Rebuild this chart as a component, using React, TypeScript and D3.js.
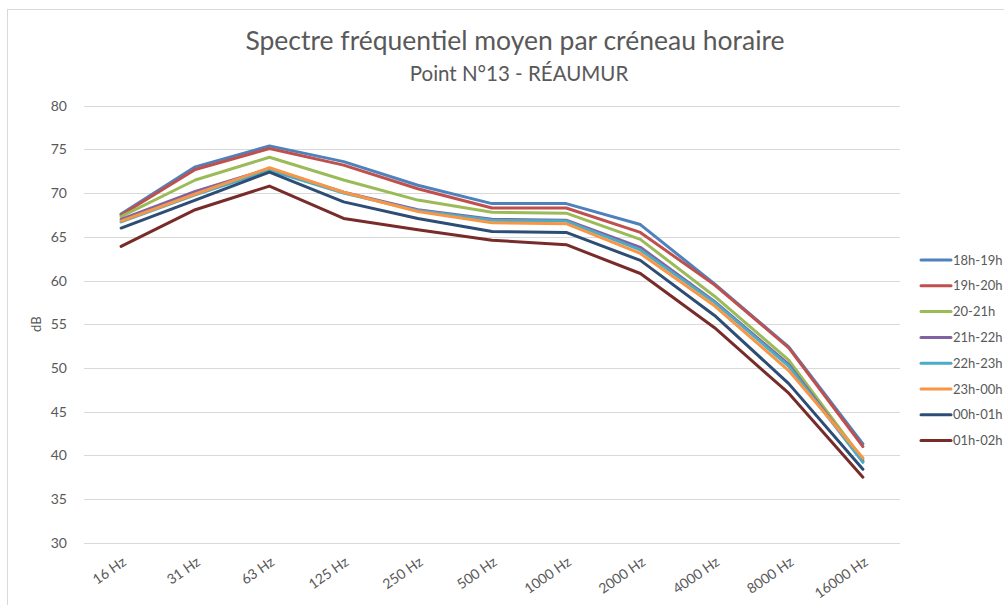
import React, { useEffect, useRef } from 'react';
import * as d3 from 'd3';

// categories (x axis)
const frequencies = ['16 Hz', '31 Hz', '63 Hz', '125 Hz', '250 Hz', '500 Hz', '1000 Hz', '2000 Hz', '4000 Hz', '8000 Hz', '16000 Hz'];

// series values (dB)
const s18h19h = [67.6, 73.0, 75.4, 73.6, 70.9, 68.8, 68.8, 66.4, 59.6, 52.4, 41.3];
const s19h20h = [67.5, 72.7, 75.1, 73.2, 70.5, 68.3, 68.3, 65.5, 59.5, 52.3, 41.0];
const s20h21h = [67.3, 71.5, 74.1, 71.5, 69.2, 67.8, 67.7, 64.7, 58.2, 50.9, 39.5];
const s21h22h = [67.0, 70.2, 72.8, 70.1, 68.1, 67.0, 66.9, 63.8, 57.6, 50.4, 39.3];
const s22h23h = [66.7, 69.8, 72.6, 70.0, 68.0, 66.9, 66.8, 63.5, 57.5, 50.2, 39.2];
const s23h00h = [66.8, 69.9, 72.9, 70.1, 67.9, 66.6, 66.5, 63.1, 57.1, 49.7, 39.7];
const s00h01h = [66.0, 69.2, 72.4, 69.0, 67.1, 65.6, 65.5, 62.3, 56.0, 48.2, 38.4];
const s01h02h = [63.9, 68.1, 70.8, 67.1, 65.8, 64.6, 64.1, 60.8, 54.6, 47.1, 37.5];

const seriesNames = ['18h-19h', '19h-20h', '20-21h', '21h-22h', '22h-23h', '23h-00h', '00h-01h', '01h-02h'];
const seriesValues = [s18h19h, s19h20h, s20h21h, s21h22h, s22h23h, s23h00h, s00h01h, s01h02h];
const seriesColors = ['#4F81BD', '#C0504D', '#9BBB59', '#8064A2', '#4BACC6', '#F79646', '#2C4D75', '#772C2A'];

const yTicks = [30, 35, 40, 45, 50, 55, 60, 65, 70, 75, 80];

const App = () => {
  const chartRef = useRef<SVGSVGElement | null>(null);

  useEffect(() => {
    const svg = d3.select(chartRef.current);
    svg.selectAll('*').remove();

    const font = 'Lato, "Open Sans", sans-serif';
    const textColor = '#595959';

    // chart area border (runs off the right and bottom of the picture)
    svg
      .append('rect')
      .attr('x', 7.5)
      .attr('y', 9.5)
      .attr('width', 1100)
      .attr('height', 800)
      .attr('fill', '#fff')
      .attr('stroke', '#d9d9d9')
      .attr('stroke-width', 1);

    // plot area
    const left = 84;
    const right = 900;
    const top = 105.7;
    const bottom = 542.7;

    const x = d3.scaleBand().domain(frequencies).range([left, right]);
    const y = d3.scaleLinear().domain([30, 80]).range([bottom, top]);

    // gridlines
    svg
      .append('g')
      .selectAll('line')
      .data(yTicks)
      .enter()
      .append('line')
      .attr('x1', left)
      .attr('x2', right)
      .attr('y1', (d) => Math.round(y(d)) + 0.5)
      .attr('y2', (d) => Math.round(y(d)) + 0.5)
      .attr('stroke', '#d9d9d9')
      .attr('stroke-width', 1);

    // y tick labels
    svg
      .append('g')
      .selectAll('text')
      .data(yTicks)
      .enter()
      .append('text')
      .attr('x', 67)
      .attr('y', (d) => y(d) + 5)
      .attr('text-anchor', 'end')
      .style('font-family', font)
      .style('font-size', '14px')
      .style('fill', textColor)
      .text((d) => d);

    // y axis title
    svg
      .append('text')
      .attr('transform', `translate(41,${(top + bottom) / 2}) rotate(-90)`)
      .attr('text-anchor', 'middle')
      .style('font-family', font)
      .style('font-size', '13px')
      .style('fill', textColor)
      .text('dB');

    // x tick labels, rotated
    svg
      .append('g')
      .selectAll('text')
      .data(frequencies)
      .enter()
      .append('text')
      .attr('transform', (d) => {
        const cx = (x(d) as number) + x.bandwidth() / 2 + 6;
        return `translate(${cx},564) rotate(-35)`;
      })
      .attr('text-anchor', 'end')
      .style('font-family', font)
      .style('font-size', '14px')
      .style('fill', textColor)
      .text((d) => d);

    // lines
    const line = d3
      .line<number>()
      .x((d, i) => (x(frequencies[i]) as number) + x.bandwidth() / 2)
      .y((d) => y(d));

    svg
      .append('g')
      .selectAll('path')
      .data(seriesValues)
      .enter()
      .append('path')
      .attr('d', (d) => line(d))
      .attr('fill', 'none')
      .attr('stroke', (d, i) => seriesColors[i])
      .attr('stroke-width', 3)
      .attr('stroke-linejoin', 'round')
      .attr('stroke-linecap', 'round');

    // legend
    const legend = svg
      .append('g')
      .selectAll('g')
      .data(seriesNames)
      .enter()
      .append('g')
      .attr('transform', (d, i) => `translate(0,${260 + i * 25.8})`);

    legend
      .append('line')
      .attr('x1', 921)
      .attr('x2', 951)
      .attr('y1', 0)
      .attr('y2', 0)
      .attr('stroke', (d, i) => seriesColors[i])
      .attr('stroke-width', 3)
      .attr('stroke-linecap', 'round');

    legend
      .append('text')
      .attr('x', 953)
      .attr('y', 4.5)
      .style('font-family', font)
      .style('font-size', '13px')
      .style('fill', textColor)
      .text((d) => d);

    // title
    svg
      .append('text')
      .attr('x', 515)
      .attr('y', 50)
      .attr('text-anchor', 'middle')
      .style('font-family', font)
      .style('font-size', '26.5px')
      .style('fill', textColor)
      .text('Spectre fréquentiel moyen par créneau horaire');

    svg
      .append('text')
      .attr('x', 519)
      .attr('y', 81)
      .attr('text-anchor', 'middle')
      .style('font-family', font)
      .style('font-size', '20.5px')
      .style('fill', textColor)
      .text('Point N°13 - RÉAUMUR');
  }, []);

  return (
    <svg
      ref={chartRef}
      width={1004}
      height={605}
      style={{ position: 'absolute', left: 0, top: 0, background: '#fff' }}
    />
  );
};

export default App;
